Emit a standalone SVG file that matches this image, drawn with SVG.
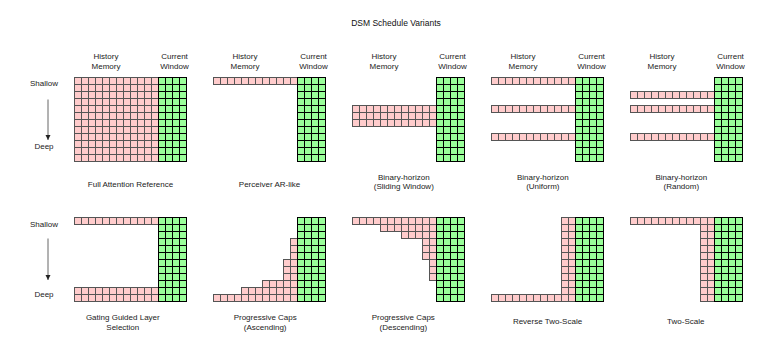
<svg xmlns="http://www.w3.org/2000/svg" width="777" height="345" viewBox="0 0 777 345">
<defs>
<pattern id="pkp" patternUnits="userSpaceOnUse" x="-0.5" y="-0.5" width="7" height="7"><rect width="7" height="7" fill="#ffcccc"/><path d="M0.5 0V7M0 0.5H7" stroke="#555" stroke-width="1" fill="none"/></pattern>
<pattern id="grp" patternUnits="userSpaceOnUse" x="-0.5" y="-0.5" width="7" height="7"><rect width="7" height="7" fill="#99ff99"/><path d="M0.5 0V7M0 0.5H7" stroke="#000" stroke-width="1" fill="none"/></pattern>
<marker id="ah" markerUnits="userSpaceOnUse" markerWidth="6" markerHeight="6" refX="5" refY="3" orient="auto"><path d="M0,0.5 L5,3 L0,5.5 z" fill="#222"/></marker>
</defs>
<style>
.pk{fill:url(#pkp);stroke:#555;stroke-width:1}
.gr{fill:url(#grp);stroke:#000;stroke-width:1}
.t{font-family:"Liberation Sans",Arial,Helvetica,sans-serif;font-size:8px;fill:#222;text-anchor:middle}
.ttl{font-family:"Liberation Sans",Arial,Helvetica,sans-serif;font-size:8.5px;fill:#111;text-anchor:middle}
.ar{stroke:#666;stroke-width:1;fill:none;marker-end:url(#ah)}
</style>
<rect width="777" height="345" fill="#fff"/>
<text id="title" class="ttl" x="396" y="25.5">DSM Schedule Variants</text>

<g id="row-labels">
<text class="t" x="44" y="86">Shallow</text>
<text class="t" x="44" y="148.8">Deep</text>
<text class="t" x="44" y="226.8">Shallow</text>
<text class="t" x="44" y="297">Deep</text>
</g>

<g id="connectors">
<path class="ar" d="M48 99.5V140"/>
<path class="ar" d="M48 238.5V280"/>
</g>

<g id="full-attention" transform="translate(74.5,77.5)">
<text class="t" x="31.5" y="-18.5">History</text><text class="t" x="31.5" y="-8.5">Memory</text>
<text class="t" x="100" y="-18.5">Current</text><text class="t" x="100" y="-8.5">Window</text>
<rect class="pk" x="0" y="0" width="84" height="84"/>
<rect class="gr" x="84" y="0" width="28" height="84"/>
<text class="t" x="56" y="109">Full Attention Reference</text>
</g>

<g id="perceiver" transform="translate(213.5,77.5)">
<text class="t" x="31.5" y="-18.5">History</text><text class="t" x="31.5" y="-8.5">Memory</text>
<text class="t" x="100" y="-18.5">Current</text><text class="t" x="100" y="-8.5">Window</text>
<rect class="pk" x="0" y="0" width="84" height="7"/>
<rect class="gr" x="84" y="0" width="28" height="84"/>
<text class="t" x="56" y="109">Perceiver AR-like</text>
</g>

<g id="binary-sliding" transform="translate(352.5,77.5)">
<text class="t" x="31.5" y="-18.5">History</text><text class="t" x="31.5" y="-8.5">Memory</text>
<text class="t" x="100" y="-18.5">Current</text><text class="t" x="100" y="-8.5">Window</text>
<rect class="pk" x="0" y="28" width="84" height="21"/>
<rect class="gr" x="84" y="0" width="28" height="84"/>
<text class="t" x="51.3" y="102">Binary-horizon</text><text class="t" x="51.3" y="111.5">(Sliding Window)</text>
</g>

<g id="binary-uniform" transform="translate(491.5,77.5)">
<text class="t" x="31.5" y="-18.5">History</text><text class="t" x="31.5" y="-8.5">Memory</text>
<text class="t" x="100" y="-18.5">Current</text><text class="t" x="100" y="-8.5">Window</text>
<rect class="pk" x="0" y="0" width="84" height="7"/>
<rect class="pk" x="0" y="28" width="84" height="7"/>
<rect class="pk" x="0" y="56" width="84" height="7"/>
<rect class="gr" x="84" y="0" width="28" height="84"/>
<text class="t" x="51.3" y="102">Binary-horizon</text><text class="t" x="51.3" y="111.5">(Uniform)</text>
</g>

<g id="binary-random" transform="translate(630.5,77.5)">
<text class="t" x="31.5" y="-18.5">History</text><text class="t" x="31.5" y="-8.5">Memory</text>
<text class="t" x="100" y="-18.5">Current</text><text class="t" x="100" y="-8.5">Window</text>
<rect class="pk" x="0" y="14" width="84" height="7"/>
<rect class="pk" x="0" y="28" width="84" height="7"/>
<rect class="pk" x="0" y="56" width="84" height="7"/>
<rect class="gr" x="84" y="0" width="28" height="84"/>
<text class="t" x="50.8" y="102">Binary-horizon</text><text class="t" x="50.8" y="111.5">(Random)</text>
</g>

<g id="gating" transform="translate(74.5,217.5)">
<rect class="pk" x="0" y="0" width="84" height="7"/>
<rect class="pk" x="0" y="70" width="84" height="14"/>
<rect class="gr" x="84" y="0" width="28" height="84"/>
<text class="t" x="48.3" y="102">Gating Guided Layer</text><text class="t" x="48.3" y="112">Selection</text>
</g>

<g id="prog-asc" transform="translate(213.5,217.5)">
<rect class="pk" x="77" y="21" width="7" height="21"/>
<rect class="pk" x="70" y="42" width="14" height="21"/>
<rect class="pk" x="49" y="63" width="35" height="7"/>
<rect class="pk" x="28" y="70" width="56" height="7"/>
<rect class="pk" x="0" y="77" width="84" height="7"/>
<rect class="gr" x="84" y="0" width="28" height="84"/>
<text class="t" x="51.7" y="102">Progressive Caps</text><text class="t" x="51.7" y="112">(Ascending)</text>
</g>

<g id="prog-desc" transform="translate(352.5,217.5)">
<rect class="pk" x="0" y="0" width="84" height="7"/>
<rect class="pk" x="28" y="7" width="56" height="7"/>
<rect class="pk" x="49" y="14" width="35" height="7"/>
<rect class="pk" x="70" y="21" width="14" height="21"/>
<rect class="pk" x="77" y="42" width="7" height="21"/>
<rect class="gr" x="84" y="0" width="28" height="84"/>
<text class="t" x="50.8" y="102">Progressive Caps</text><text class="t" x="50.8" y="112">(Descending)</text>
</g>

<g id="reverse-two-scale" transform="translate(491.5,217.5)">
<rect class="pk" x="70" y="0" width="14" height="77"/>
<rect class="pk" x="0" y="77" width="84" height="7"/>
<rect class="gr" x="84" y="0" width="28" height="84"/>
<text class="t" x="56" y="106.8">Reverse Two-Scale</text>
</g>

<g id="two-scale" transform="translate(630.5,217.5)">
<rect class="pk" x="0" y="0" width="84" height="7"/>
<rect class="pk" x="70" y="7" width="14" height="77"/>
<rect class="gr" x="84" y="0" width="28" height="84"/>
<text class="t" x="55.3" y="106.8">Two-Scale</text>
</g>
</svg>
